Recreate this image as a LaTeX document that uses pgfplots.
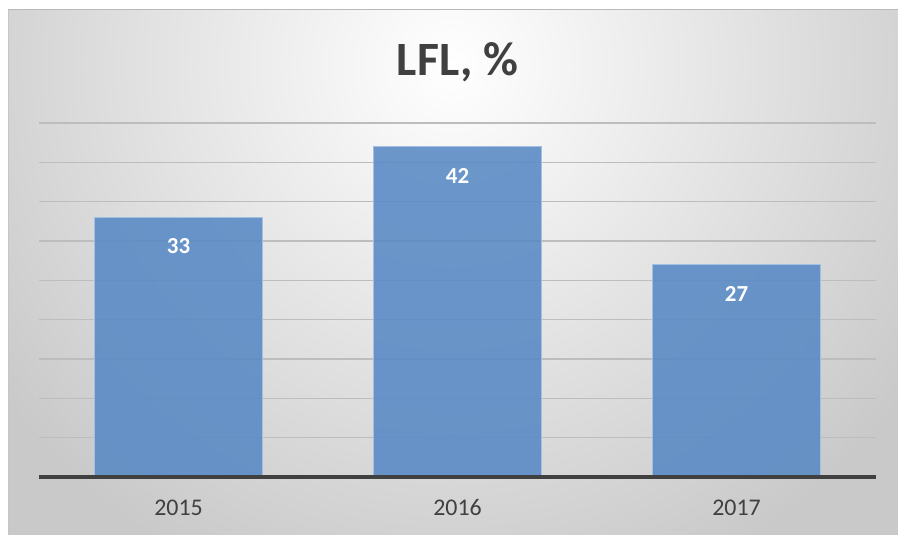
\documentclass[border=0pt]{standalone}
\usepackage{fontspec}
\setmainfont{Carlito}
\usepackage{pgfplots}
\pgfplotsset{compat=1.18}
\definecolor{bgedge}{HTML}{C9C9C9}
\definecolor{txt}{HTML}{404040}
\definecolor{barfill}{HTML}{5789C5}
\definecolor{baredge}{HTML}{A3C0E3}
\definecolor{gridc}{HTML}{BDBDBD}
\begin{document}
\begin{tikzpicture}[x=1bp,y=1bp]
  \useasboundingbox (0,0) rectangle (898,535);
  \fill[white] (0,0) rectangle (898,535);
  \begin{scope}
    \clip (8,0) rectangle (898,525);
    \fill[bgedge] (8,0) rectangle (898,525);
    \shade[inner color=white, outer color=bgedge] (452,470) circle (560);
  \end{scope}
  \draw[gray!55, line width=1.5bp] (8,525.5) -- (898,525.5);
  \draw[gray!45, line width=1bp] (8.5,0) -- (8.5,525);
  \begin{axis}[
    at={(39bp,58bp)}, anchor=south west,
    scale only axis,
    width=837bp, height=354bp,
    xmin=-0.5, xmax=2.5, ymin=0, ymax=45,
    axis line style={draw=none},
    xtick={0,1,2}, xticklabels={2015,2016,2017},
    ytick={0,5,...,45}, yticklabels={},
    major tick length=0pt,
    ymajorgrids, major grid style={gridc, line width=1.3bp},
    xticklabel style={font=\fontsize{24}{24}\selectfont, text=txt, anchor=center, yshift=-31bp},
    title={LFL, \%},
    title style={font=\fontsize{48}{48}\selectfont\bfseries, text=txt, at={(0.5,1)}, anchor=center, yshift=55bp},
    ybar, bar width=0.6,
    nodes near coords,
    /pgf/number format/assume math mode=true,
    every node near coord/.append style={font=\fontsize{23}{23}\selectfont\bfseries, text=white, anchor=center, yshift=-29bp},
    clip=false,
  ]
    \addplot[fill=barfill, fill opacity=0.88, draw=baredge, line width=1bp, text opacity=1] coordinates {(0,33) (1,42) (2,27)};
    \draw[txt, line width=3.5bp] (axis cs:-0.5,0) -- (axis cs:2.5,0);
  \end{axis}
\end{tikzpicture}
\end{document}
